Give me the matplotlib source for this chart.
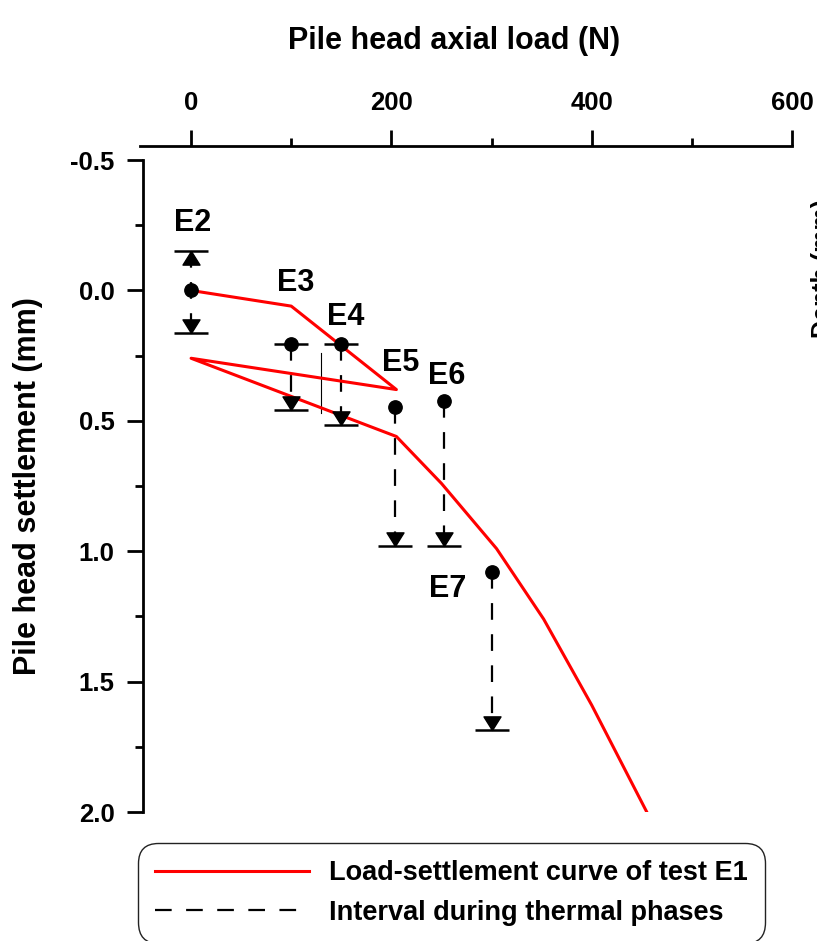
import matplotlib.pyplot as plt
from matplotlib.path import Path
from matplotlib.ticker import MultipleLocator, FormatStrFormatter

plt.rcParams['font.family'] = ['Liberation Sans', 'DejaVu Sans']
plt.rcParams['font.weight'] = 'bold'

# load-settlement curve of test E1 (load in N, settlement in mm)
curve_load = [0, 100, 205, 0, 205, 250, 305, 352, 400, 455]
curve_settle = [0.0, 0.06, 0.38, 0.26, 0.56, 0.74, 0.99, 1.26, 1.59, 2.0]

# thermal phases E2..E7: load held, settlement at start / end of the phase
phase_names = ['E2', 'E3', 'E4', 'E5', 'E6', 'E7']
phase_load = [0, 100, 150, 204, 253, 300]
phase_start = [0.0, 0.205, 0.205, 0.445, 0.425, 1.08]
phase_end = [0.165, 0.46, 0.515, 0.98, 0.98, 1.685]
phase_cap_at_start = [False, True, True, False, False, False]
e2_heave = -0.15  # E2 also moved upward

# label offsets from the start point (pixels)
label_dx = [2, 4, 4, 5, 2, -44]
label_dy = [67, 61, 27, 44, 25, -17]

# thin vertical mark between E3 and E4
mark_load = 130
mark_span = [0.24, 0.47]

cap_half = 17  # N

fig = plt.figure(figsize=(8.17, 9.41), dpi=100)
ax = fig.add_axes([140 / 817, 1 - 812 / 941, (792 - 140) / 817, (812 - 146) / 941])

# triangles with their tip at the data point
tri_down = Path([(-0.5, 0.8), (0.5, 0.8), (0, 0), (-0.5, 0.8)], closed=True)
tri_up = Path([(-0.5, -0.8), (0.5, -0.8), (0, 0), (-0.5, -0.8)], closed=True)

red, = ax.plot(curve_load, curve_settle, color='red', lw=2.2, zorder=3,
               label='Load-settlement curve of test E1')

ax.plot([mark_load, mark_load], mark_span, color='black', lw=0.8)

dash_handle = None
for i, name in enumerate(phase_names):
    x = phase_load[i]
    s0, s1 = phase_start[i], phase_end[i]
    top = e2_heave if name == 'E2' else s0
    ln, = ax.plot([x, x], [top, s1], color='black', lw=1.6,
                  linestyle=(0, (7.5, 6.5)), zorder=2)
    if dash_handle is None:
        dash_handle = ln
        ln.set_label('Interval during thermal phases')
    ax.plot(x, s0, 'o', color='black', ms=9.6, zorder=4)
    ax.plot(x, s1, marker=tri_down, color='black', ms=19.6, zorder=4)
    ax.hlines(s1, x - cap_half, x + cap_half, color='black', lw=1.8, zorder=4)
    if phase_cap_at_start[i]:
        ax.hlines(s0, x - cap_half, x + cap_half, color='black', lw=1.8, zorder=4)
    if name == 'E2':
        ax.plot(x, e2_heave, marker=tri_up, color='black', ms=19.6, zorder=4)
        ax.hlines(e2_heave, x - cap_half, x + cap_half, color='black', lw=1.8, zorder=4)
    ax.annotate(name, (x, s0), xytext=(label_dx[i], label_dy[i]),
                textcoords='offset pixels', ha='center', va='center',
                fontsize=22, fontweight='bold')

ax.set_xlim(-51, 600)
ax.set_ylim(2.0, -0.554)

ax.spines['right'].set_visible(False)
ax.spines['bottom'].set_visible(False)
ax.spines['left'].set_position(('data', -48))
ax.spines['left'].set_bounds(-0.5, 2.0)
for sp in ['left', 'top']:
    ax.spines[sp].set_linewidth(2.0)

ax.xaxis.tick_top()
ax.xaxis.set_label_position('top')
ax.set_xticks([0, 200, 400, 600])
ax.xaxis.set_minor_locator(MultipleLocator(100))
ax.set_yticks([-0.5, 0.0, 0.5, 1.0, 1.5, 2.0])
ax.yaxis.set_minor_locator(MultipleLocator(0.25))
ax.yaxis.set_major_formatter(FormatStrFormatter('%.1f'))

ax.tick_params(which='major', direction='out', length=11.5, width=2.0, labelsize=18.5, pad=9)
ax.tick_params(which='minor', direction='out', length=5.5, width=2.0)
ax.tick_params(axis='x', pad=11)

ax.set_xlabel('Pile head axial load (N)', fontsize=22, fontweight='bold')
ax.set_ylabel('Pile head settlement (mm)', fontsize=22, fontweight='bold')
ax.xaxis.set_label_coords((454 - 140) / 652, 1 + (146 - 49) / 666)
ax.yaxis.set_label_coords((43 - 140) / 652, (812 - 486) / 666)

# remnant of the neighbouring panel's axis title, cut by the right edge
fig.text(823 / 817, 1 - 268 / 941, 'Depth (mm)', rotation=90, ha='center', va='center',
         fontsize=18, fontweight='bold')

leg = fig.legend(handles=[red, dash_handle], loc='upper left',
                 bbox_to_anchor=(138 / 817, 1 - 843 / 941), bbox_transform=fig.transFigure,
                 fontsize=19.5, handlelength=5.7, handletextpad=0.74, borderpad=0.63,
                 labelspacing=0.5, fancybox=True, frameon=True, borderaxespad=0)
frame = leg.get_frame()
frame.set_boxstyle('round', pad=0, rounding_size=0.75)
frame.set_edgecolor('#222222')
frame.set_linewidth(1.0)
frame.set_alpha(1)

fig.savefig('out.png', dpi=100)
